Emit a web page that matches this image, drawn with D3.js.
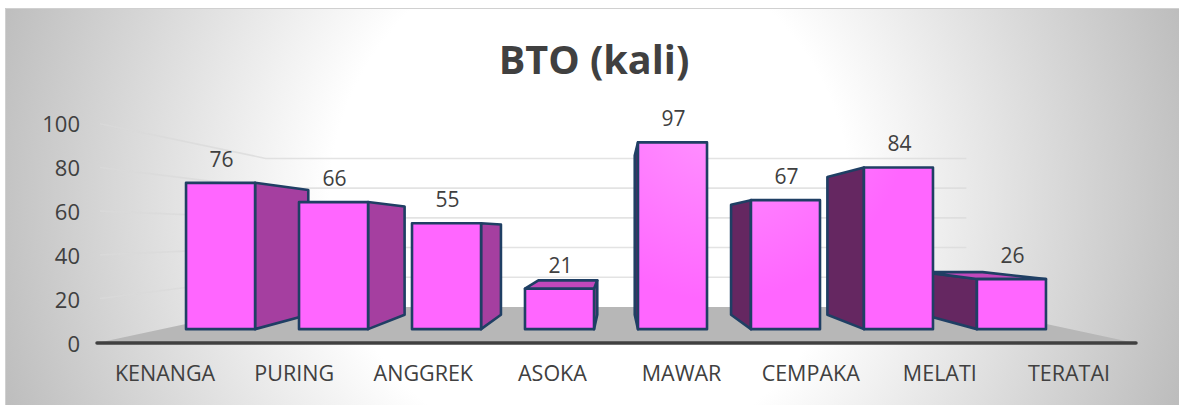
<!DOCTYPE html>
<html>
<head>
<meta charset="utf-8">
<script src="https://cdn.jsdelivr.net/npm/d3@7"></script>
<style>
html,body{margin:0;padding:0;background:#fff;overflow:hidden}
text{font-family:"Open Sans",sans-serif;fill:#404040}
</style>
</head>
<body>
<svg id="c" width="1179" height="405"></svg>
<script>
const categories = ["KENANGA","PURING","ANGGREK","ASOKA","MAWAR","CEMPAKA","MELATI","TERATAI"];
const values = [76,66,55,21,97,67,84,26];
const yTicks = [0,20,40,60,80,100];
const titleText = "BTO (kali)";

const svg = d3.select("#c");
const defs = svg.append("defs");
const bg = defs.append("radialGradient").attr("id","bg").attr("gradientUnits","userSpaceOnUse")
  .attr("cx",590).attr("cy",200).attr("r",620);
bg.append("stop").attr("offset","0.42").attr("stop-color","#fff");
bg.append("stop").attr("offset","1").attr("stop-color","#bdbdbd");
const fg = defs.append("radialGradient").attr("id","face").attr("gradientUnits","userSpaceOnUse")
  .attr("cx",720).attr("cy",110).attr("r",190);
fg.append("stop").attr("offset","0").attr("stop-color","#ff96ff");
fg.append("stop").attr("offset","1").attr("stop-color","#ff66ff");

svg.append("rect").attr("x",5).attr("y",8).attr("width",1174).attr("height",397).attr("fill","url(#bg)");
svg.append("path").attr("d","M5.5 405V8.5H1179").attr("fill","none").attr("stroke","#d0d0d0").attr("stroke-width",1);

const y = d3.scaleLinear().domain([0,100]).range([343,123]);
const xFloor = d3.scaleLinear().domain([0,1]).range([97,1135]);
const x = d3.scaleBand().domain(categories).range([99.5,1132.5]).paddingInner(0.389).paddingOuter(0.1945);

const vp = [616,232];
const sBack = 0.675, sFront = 0.875, sDepth = 0.746;
const proj = (X,v,s) => [vp[0]+s*(X-vp[0]), vp[1]+s*(y(v)-vp[1])];
const line = d3.line();

// floor
svg.append("path").attr("fill","#b7b7b7")
  .attr("d",line([proj(xFloor(0),0,1),proj(xFloor(0),0,sBack),proj(xFloor(1),0,sBack),proj(xFloor(1),0,1)])+"Z");

// gridlines: left wall then back wall
const grid = svg.append("g").attr("fill","none").attr("stroke","#d9d9d9").attr("stroke-width",1.6);
yTicks.filter(t=>t>0).forEach(t=>{
  grid.append("path").attr("stroke-opacity",0.75)
    .attr("d",line([[xFloor(0)+3,y(t)+ (proj(xFloor(0),t,sBack)[1]-y(t))*0.02],proj(xFloor(0),t,sBack),proj(xFloor(1),t,sBack)]));
});

// axis line
svg.append("path").attr("d",line([[97,343],[1136,343]])).attr("stroke","#404040").attr("stroke-width",3.5)
  .attr("stroke-linecap","round").attr("fill","none");

// bars: outermost first so inner bars overlap
const order = categories.map((c,i)=>i).sort((a,b)=>{
  const d = i => Math.abs(x(categories[i])+x.bandwidth()/2-vp[0]);
  return d(b)-d(a);
});
const barStyle = g => g.attr("stroke","#1f3f64").attr("stroke-width",2.6).attr("stroke-linejoin","round");
order.forEach(i=>{
  const X0 = x(categories[i]), X1 = X0+x.bandwidth(), v = values[i];
  const g = svg.append("g").call(barStyle);
  const cx = (X0+X1)/2;
  const sideX = cx < vp[0] ? X1 : X0;
  const isRight = cx < vp[0];
  g.append("path").attr("fill", isRight ? "#a53fa0" : "#652761")
    .attr("d",line([proj(sideX,0,sFront),proj(sideX,v,sFront),proj(sideX,v,sDepth),proj(sideX,0,sDepth)])+"Z");
  if (proj(X0,v,sFront)[1] > vp[1]) {
    g.append("path").attr("fill","#c148bb")
      .attr("d",line([proj(X0,v,sFront),proj(X0,v,sDepth),proj(X1,v,sDepth),proj(X1,v,sFront)])+"Z");
  }
  const a = proj(X0,v,sFront), b = proj(X1,0,sFront);
  g.append("rect").attr("x",a[0]).attr("y",a[1]).attr("width",b[0]-a[0]).attr("height",b[1]-a[1]).attr("fill","url(#face)");
  svg.append("text").attr("x",(a[0]+b[0])/2+1).attr("y",a[1]-16).attr("text-anchor","middle")
    .attr("font-size",21).text(v);
});

// axes
const yAxis = d3.axisLeft(y).tickValues(yTicks).tickSize(0).tickPadding(0);
const ya = svg.append("g").attr("transform","translate(80,1.3)").call(yAxis);
ya.select(".domain").remove();
ya.attr("font-family",null);
ya.selectAll("text").attr("font-size",22).style("fill","#404040");

const xAxis = d3.axisBottom(x).tickSize(0).tickPadding(0);
const xa = svg.append("g").attr("transform","translate(1,373.5)").call(xAxis);
xa.select(".domain").remove();
xa.attr("font-family",null);
xa.selectAll("text").attr("font-size",21.5).attr("dy","0.35em").attr("y",0).style("fill","#404040");

svg.append("text").attr("x",594).attr("y",74).attr("text-anchor","middle")
  .attr("font-size",39.6).attr("font-weight",700).text(titleText);
</script>
</body>
</html>
